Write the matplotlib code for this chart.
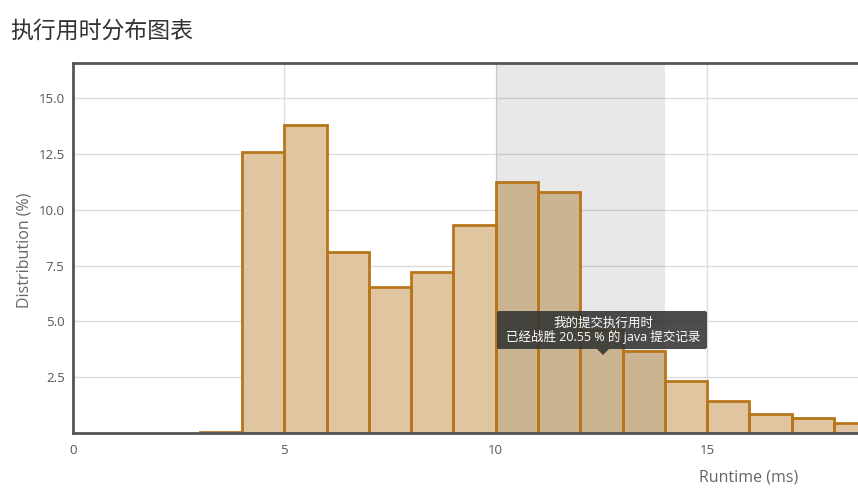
import matplotlib
matplotlib.use("Agg")
import matplotlib.pyplot as plt
from matplotlib.patches import FancyBboxPatch, Polygon

plt.rcParams['font.family'] = ['Open Sans', 'Noto Sans CJK SC', 'DejaVu Sans']

# Data
bin_starts = [3, 4, 5, 6, 7, 8, 9, 10, 11, 12, 13, 14, 15, 16, 17, 18]
distribution = [0.06, 12.59, 13.80, 8.11, 6.54, 7.21, 9.32, 11.25, 10.80, 4.6, 3.67, 2.34, 1.45, 0.84, 0.66, 0.46]
highlight_range = (10, 14)
x_ticks = [0, 5, 10, 15]
y_ticks = [2.5, 5.0, 7.5, 10.0, 12.5, 15.0]
title = "执行用时分布图表"
xlabel = "Runtime (ms)"
ylabel = "Distribution (%)"
tooltip_lines = ["我的提交执行用时", "已经战胜 20.55 % 的 java 提交记录"]

fig = plt.figure(figsize=(8.58, 4.96), dpi=100)
ax = fig.add_axes([73/858, 63/496, 785/858, 370/496])
ax.set_xlim(0, 785/42.27)
ax.set_ylim(0, 370/22.32)

# fills
ax.bar(bin_starts, distribution, width=1.0, align='edge', color='#dfc6a0',
       edgecolor='none', linewidth=0, zorder=3)
# highlight band overlays fills
ax.axvspan(highlight_range[0], highlight_range[1], color='black', alpha=0.09, lw=0, zorder=4)
# edges on top
ax.bar(bin_starts, distribution, width=1.0, align='edge', fill=False,
       edgecolor='#b8761c', linewidth=2, zorder=5)

ax.set_xticks(x_ticks)
ax.set_yticks(y_ticks)
ax.set_xticklabels([str(t) for t in x_ticks])
ax.set_yticklabels([f"{t:.1f}" for t in y_ticks])
ax.tick_params(axis='both', length=0, labelsize=9.5, colors='#555555')
ax.tick_params(axis='x', pad=8)
ax.tick_params(axis='y', pad=6)
ax.grid(True, color='#dcdcdc', linewidth=1, zorder=0)
ax.set_axisbelow(True)

for s in ['left', 'top', 'bottom']:
    ax.spines[s].set_color('#555555')
    ax.spines[s].set_linewidth(2)
    ax.spines[s].set_zorder(6)
ax.spines['right'].set_visible(False)

fig.text(10/858, 1 - 32/496, title, fontsize=16.5, color='#333333', va='center', ha='left',
         fontweight='light')
fig.text(25/858, 1 - 250/496, ylabel, fontsize=11.5, color='#666666', rotation=90, va='center', ha='center')
fig.text(749/858, 1 - 477/496, xlabel, fontsize=11.5, color='#666666', va='center', ha='center')

# tooltip
x0, x1 = 497/858, 707/858
y0, y1 = 1 - 349/496, 1 - 311/496
box = FancyBboxPatch((x0, y0), x1 - x0, y1 - y0, boxstyle='round,pad=0,rounding_size=0.003',
                     transform=fig.transFigure, facecolor='#333333', alpha=0.88,
                     edgecolor='none', zorder=10)
fig.add_artist(box)
cx = 603/858
arrow = Polygon([[cx - 6/858, y0], [cx + 6/858, y0], [cx, 1 - 355/496]], closed=True,
                transform=fig.transFigure, facecolor='#333333', alpha=0.88, edgecolor='none', zorder=10)
fig.add_artist(arrow)
fig.text(cx, 1 - 323/496, tooltip_lines[0], fontsize=9, color='white', ha='center', va='center', zorder=11)
fig.text(cx, 1 - 337/496, tooltip_lines[1], fontsize=9, color='white', ha='center', va='center', zorder=11)

fig.savefig('out.png', dpi=100)
